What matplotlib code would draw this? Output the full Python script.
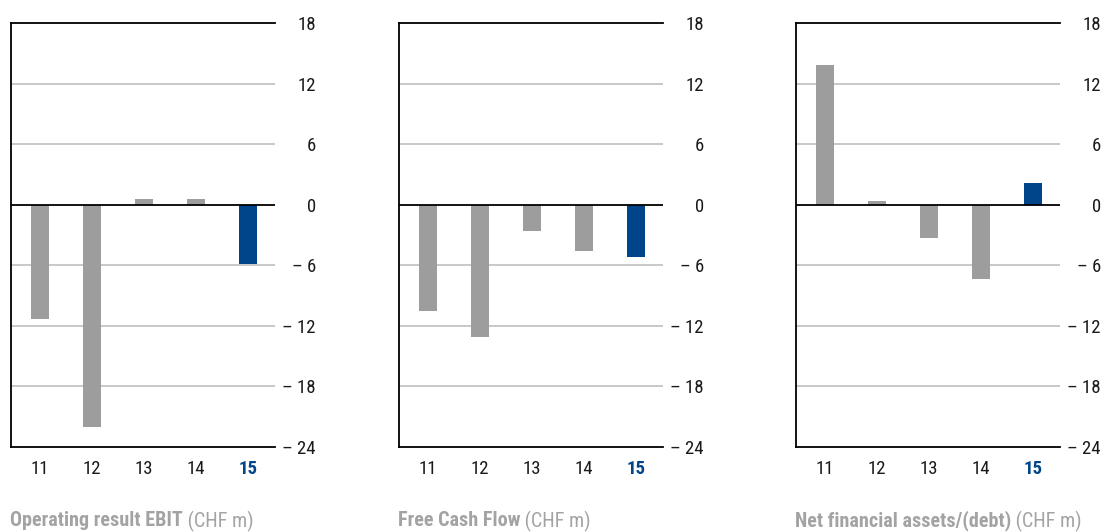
import matplotlib
matplotlib.use('agg')
from matplotlib import pyplot as plt
from matplotlib import font_manager

# 数据
years = ['11', '12', '13', '14', '15']
ebit = [-11.3, -22.0, 0.6, 0.6, -5.9]
free_cash_flow = [-10.5, -13.1, -2.6, -4.6, -5.2]
net_financial = [13.8, 0.4, -3.3, -7.4, 2.2]
titles = ['Operating result EBIT', 'Free Cash Flow', 'Net financial assets/(debt)']
unit = ' (CHF m)'
y_ticks = [18, 12, 6, 0, -6, -12, -18, -24]

GREY = '#9d9d9d'
BLUE = '#00458a'
TEXT_GREY = '#a3a3a3'
TICK_COLOR = '#1a1a1a'

_names = {f.name for f in font_manager.fontManager.ttflist}
FONT = 'DejaVu Sans'
for _f in ['Roboto Condensed', 'Archivo Narrow', 'PT Sans Narrow', 'Liberation Sans Narrow']:
    if _f in _names:
        FONT = _f
        break
plt.rcParams['font.family'] = [FONT, 'DejaVu Sans']

W, H = 1105, 532
fig = plt.figure(figsize=(W / 100, H / 100), dpi=100)

panel_left = [11, 399, 796]
panel_width = 264
top_px, bottom_px = 23, 447


def tick_text(v):
    if v < 0:
        return '\u2013 %d' % abs(v)
    return '%d' % v


for _i, _values in enumerate([ebit, free_cash_flow, net_financial]):
    ax = fig.add_axes([panel_left[_i] / W, 1 - bottom_px / H,
                       panel_width / W, (bottom_px - top_px) / H])
    _x = list(range(len(years)))
    _colors = [GREY] * (len(years) - 1) + [BLUE]
    ax.bar(_x, _values, width=0.35, color=_colors, zorder=2)

    ax.set_xlim(-0.56, 4.52)
    ax.set_ylim(-24, 18)

    # 网格线
    for _v in y_ticks:
        if _v in (18, -24):
            continue
        if _v == 0:
            ax.axhline(0, color='black', lw=1.3, zorder=3)
        else:
            ax.axhline(_v, color='#c4c4c4', lw=1.3, zorder=1)

    ax.spines['right'].set_visible(False)
    for _s in ['left', 'top', 'bottom']:
        ax.spines[_s].set_linewidth(1.3)
        ax.spines[_s].set_color('black')

    ax.yaxis.tick_right()
    ax.set_yticks(y_ticks)
    ax.set_yticklabels([tick_text(v) for v in y_ticks], fontsize=13.5, color=TICK_COLOR)
    for _lbl in ax.get_yticklabels():
        _lbl.set_horizontalalignment('right')
    ax.tick_params(axis='y', length=0, pad=29.5)

    ax.set_xticks(_x)
    ax.set_xticklabels(years, fontsize=13.5, color=TICK_COLOR)
    ax.tick_params(axis='x', length=0, pad=9)
    _last = ax.get_xticklabels()[-1]
    _last.set_color(BLUE)
    _last.set_fontweight('bold')

# 标题：粗体 + 常规
renderer = fig.canvas.get_renderer()
for _i, _title in enumerate(titles):
    _t = fig.text(panel_left[_i] / W - 1 / W, 1 - 521 / H, _title, fontsize=14.5,
                  fontweight='bold', color=TEXT_GREY, va='center', ha='left')
    _bb = _t.get_window_extent(renderer)
    fig.text(_bb.x1 / W, 1 - 521 / H, unit, fontsize=14.5,
             color=TEXT_GREY, va='center', ha='left')

fig.savefig('out.png', dpi=100)
